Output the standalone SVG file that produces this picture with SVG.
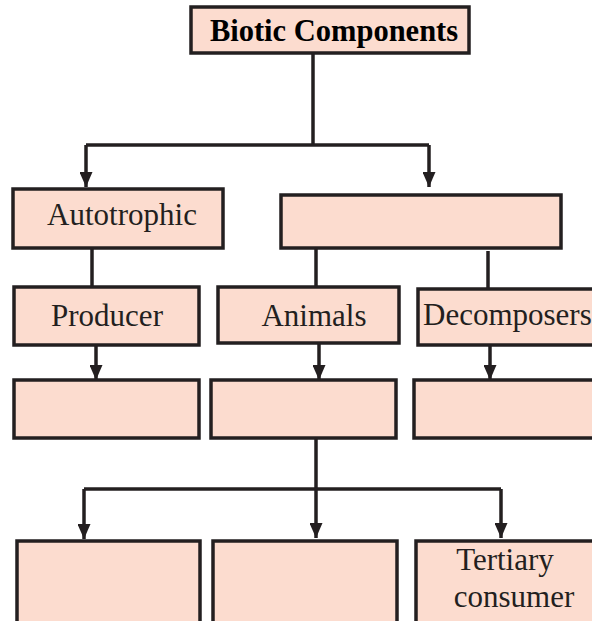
<svg xmlns="http://www.w3.org/2000/svg" width="592" height="621" viewBox="0 0 592 621">
<style>
.box{fill:#fcdccf;stroke:#231f20;stroke-width:3.5}
.lbl{font-family:"Liberation Serif","Times New Roman",serif;font-size:31px;fill:#231f20}
.ttl{font-family:"Liberation Serif","Times New Roman",serif;font-size:30.5px;font-weight:bold;fill:#000}
.ln{fill:none;stroke:#231f20;stroke-width:3.5}
</style>
<defs>
<marker id="ad" viewBox="0 0 15 13" refX="15" refY="6.5" markerWidth="15" markerHeight="13" markerUnits="userSpaceOnUse" orient="auto">
<path d="M0,0 L15,6.5 L0,13 Z" fill="#231f20"/>
</marker>
</defs>
<rect width="592" height="621" fill="#fff"/>
<g id="connectors">
<path class="ln" d="M313,53 V145"/>
<path class="ln" d="M86,145 H429"/>
<path class="ln" d="M86,145 V187" marker-end="url(#ad)"/>
<path class="ln" d="M429,145 V187" marker-end="url(#ad)"/>
<path class="ln" d="M92,248 V287"/>
<path class="ln" d="M316,248 V287"/>
<path class="ln" d="M488,251 V289"/>
<path class="ln" d="M96,345 V380" marker-end="url(#ad)"/>
<path class="ln" d="M319,343 V380" marker-end="url(#ad)"/>
<path class="ln" d="M490,345 V380" marker-end="url(#ad)"/>
<path class="ln" d="M316,438 V489"/>
<path class="ln" d="M84,489 H501"/>
<path class="ln" d="M84,489 V539" marker-end="url(#ad)"/>
<path class="ln" d="M316,489 V538" marker-end="url(#ad)"/>
<path class="ln" d="M501,489 V538" marker-end="url(#ad)"/>
</g>
<g id="biotic">
<rect class="box" x="191" y="7" width="278" height="46"/>
<text class="ttl" x="334" y="41" text-anchor="middle">Biotic Components</text>
</g>
<g id="autotrophic">
<rect class="box" x="13" y="189" width="210" height="59"/>
<text class="lbl" x="122" y="225" text-anchor="middle">Autotrophic</text>
</g>
<g id="heterotrophic">
<rect class="box" x="281" y="195" width="280" height="53"/>
</g>
<g id="producer">
<rect class="box" x="14" y="287" width="185" height="58"/>
<text class="lbl" x="107" y="326" text-anchor="middle">Producer</text>
</g>
<g id="animals">
<rect class="box" x="218" y="287" width="181" height="56"/>
<text class="lbl" x="314" y="326" text-anchor="middle">Animals</text>
</g>
<g id="decomposers">
<rect class="box" x="418" y="289" width="190" height="56"/>
<text class="lbl" x="423" y="325">Decomposers</text>
</g>
<g id="producer-child">
<rect class="box" x="14" y="380" width="185" height="58"/>
</g>
<g id="animals-child">
<rect class="box" x="211" y="380" width="185" height="58"/>
</g>
<g id="decomposers-child">
<rect class="box" x="414" y="380" width="190" height="58"/>
</g>
<g id="consumer-1">
<rect class="box" x="17" y="541" width="183" height="84"/>
</g>
<g id="consumer-2">
<rect class="box" x="213" y="541" width="184" height="84"/>
</g>
<g id="tertiary">
<rect class="box" x="416" y="541" width="190" height="84"/>
<text class="lbl" x="505" y="570" text-anchor="middle">Tertiary</text>
<text class="lbl" x="514" y="607" text-anchor="middle">consumer</text>
</g>
</svg>
